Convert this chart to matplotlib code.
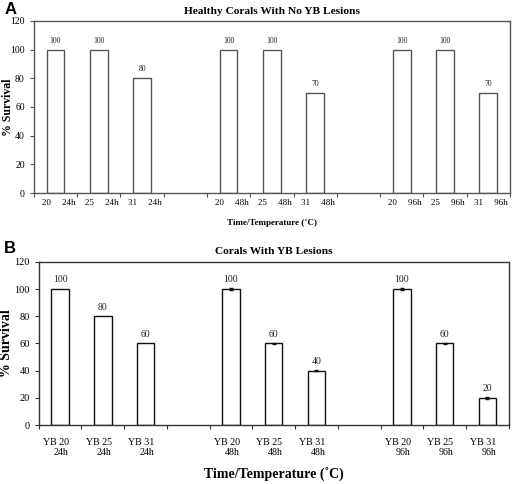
import numpy as np
import matplotlib.pyplot as plt

# slots: three groups of three bars, with an empty slot between groups
temps = ["20", "25", "31", "", "20", "25", "31", "", "20", "25", "31"]
times = ["24h", "24h", "24h", "", "48h", "48h", "48h", "", "96h", "96h", "96h"]
healthy = [100, 100, 80, None, 100, 100, 70, None, 100, 100, 70]
lesions = [100, 80, 60, None, 100, 60, 40, None, 100, 60, 20]
lesion_err = [0, 0, 0, None, 0.6, 0.6, 0.6, None, 0.6, 0.6, 0.6]

labels_a = [f"{t}     {h}" if t else "" for t, h in zip(temps, times)]
labels_b = [f"YB {t}\n{h}" if t else "" for t, h in zip(temps, times)]

serif = ["Liberation Serif", "DejaVu Serif"]
plt.rcParams["font.family"] = serif


def draw_panel(ax, values, labels, edge, spine_col, fs):
    x = np.arange(len(values))
    idx = [i for i, v in enumerate(values) if v is not None]
    vals = [values[i] for i in idx]
    ax.bar(idx, vals, width=0.41, color="white", edgecolor=edge, linewidth=1.0, zorder=2)
    for i, v in zip(idx, vals):
        ax.text(i, v + 3.5, str(v), ha="center", va="bottom", fontsize=fs["val"], color="#222222")
    ax.set_xlim(-0.5, len(values) - 0.5)
    ax.set_ylim(0, 120)
    ax.set_yticks(range(0, 121, 20))
    ax.set_xticks(np.arange(-0.5, len(values), 1.0))
    ax.set_xticklabels([])
    ax.set_xticks(x + fs["xoff"], minor=True)
    ax.set_xticklabels(labels, minor=True, fontsize=fs["xt"], linespacing=1.2,
                       multialignment="right")
    ax.tick_params(axis="x", which="major", length=3, direction="out", color=spine_col)
    ax.tick_params(axis="x", which="minor", length=0, pad=fs["xpad"])
    ax.tick_params(axis="y", length=3, labelsize=fs["yt"], color=spine_col)
    for s in ax.spines.values():
        s.set_color(spine_col)
        s.set_linewidth(1.0)
    ax.set_ylabel("% Survival", fontsize=fs["yl"], fontweight="bold")
    ax.yaxis.set_label_coords(fs["ylx"], 0.5)


fig = plt.figure(figsize=(5.12, 4.84), dpi=100)

ax_a = fig.add_axes([0.066, 0.601, 0.930, 0.356])
draw_panel(ax_a, healthy, labels_a, "#555555", "#555555",
           {"val": 5.5, "xt": 6.5, "yt": 7, "yl": 8.5, "xpad": 4,
            "ylx": -0.042, "xoff": 0.07})
ax_a.set_title("Healthy Corals With No YB Lesions", fontsize=8.2, fontweight="bold", pad=5)
ax_a.set_xlabel("Time/Temperature (\u02daC)", fontsize=6.5, fontweight="bold", labelpad=9)

ax_b = fig.add_axes([0.0756, 0.1219, 0.918, 0.3368])
draw_panel(ax_b, lesions, labels_b, "#111111", "#333333",
           {"val": 7, "xt": 7.2, "yt": 7.5, "yl": 10, "xpad": 9,
            "ylx": -0.054, "xoff": -0.1})
idx = [i for i, e in enumerate(lesion_err) if e]
ax_b.errorbar(idx, [lesions[i] for i in idx], yerr=[lesion_err[i] for i in idx],
              fmt="none", ecolor="#111111", elinewidth=0.8, capsize=1.2, zorder=3)
ax_b.set_title("Corals With YB Lesions", fontsize=8.2, fontweight="bold", pad=6)
ax_b.set_xlabel("Time/Temperature (\u02daC)", fontsize=10, fontweight="bold", labelpad=8)

fig.text(0.008, 0.995, "A", fontsize=12, fontweight="bold", family="Liberation Sans", va="top")
fig.text(0.008, 0.503, "B", fontsize=12, fontweight="bold", family="Liberation Sans", va="top")

fig.savefig("out.png", dpi=100)
